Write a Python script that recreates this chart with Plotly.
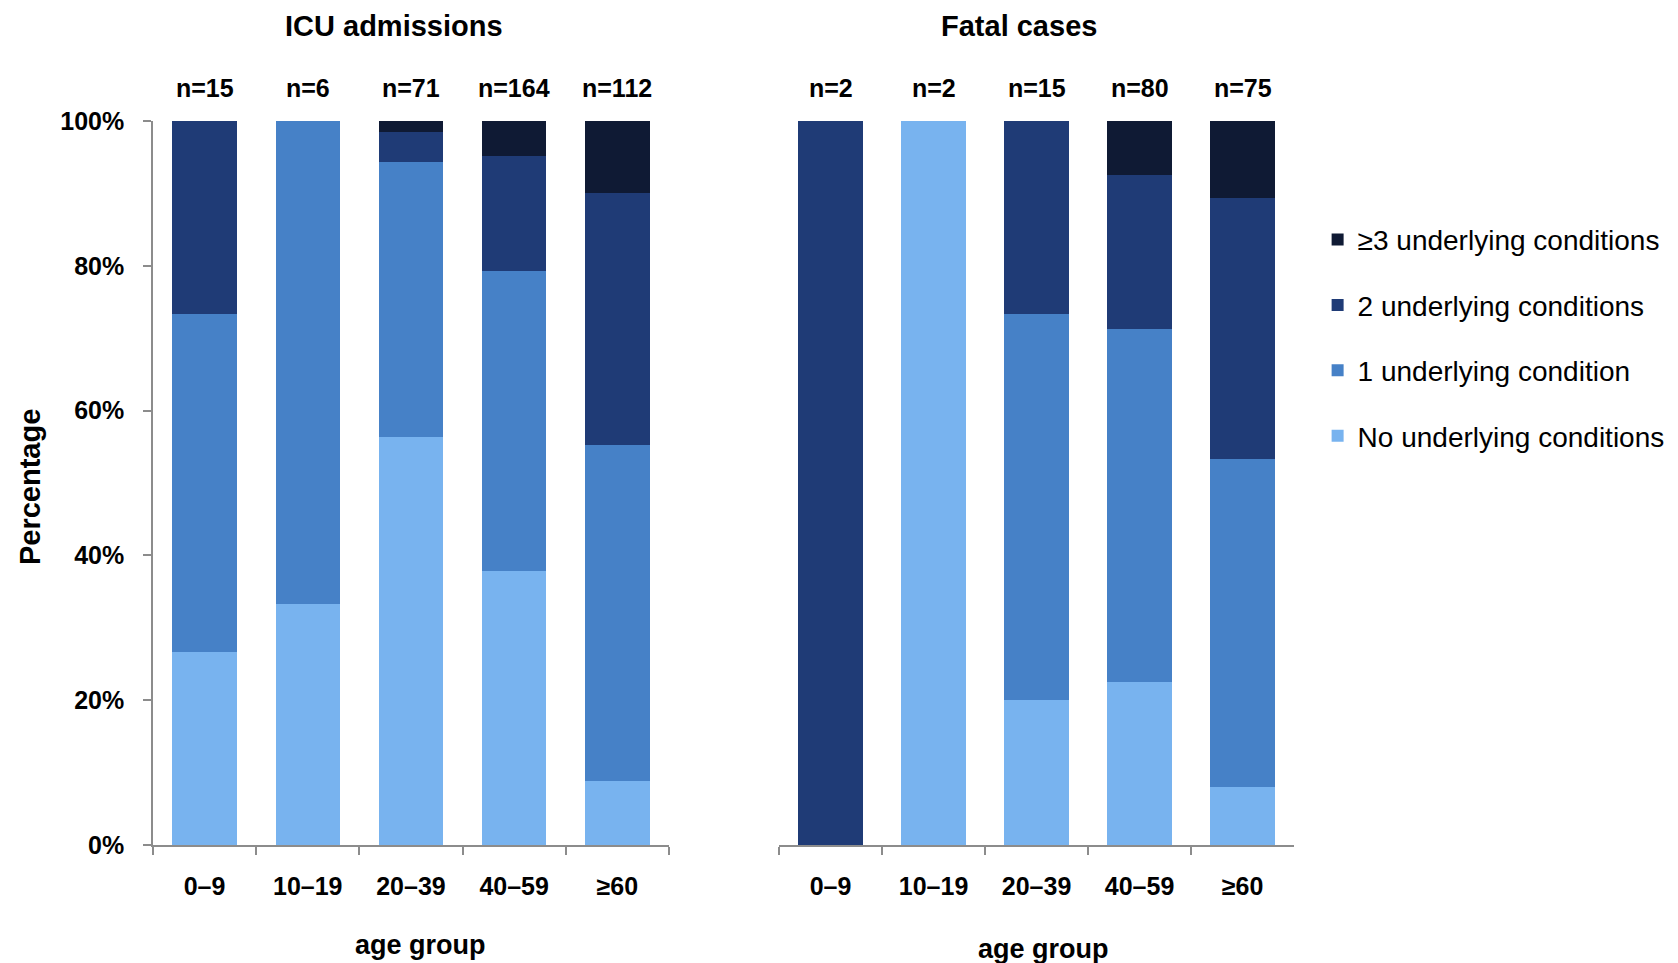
import plotly.graph_objs as go

age_groups = ["0–9", "10–19", "20–39", "40–59", "≥60"]

# ICU admissions, % of cases per age group
icu_n = [15, 6, 71, 164, 112]
icu_none = [26.7, 33.3, 56.3, 37.8, 8.9]
icu_one = [46.7, 66.7, 38.0, 41.5, 46.4]
icu_two = [26.6, 0, 4.2, 15.9, 34.8]
icu_three = [0, 0, 1.5, 4.8, 9.9]

# Fatal cases, % of cases per age group
fatal_n = [2, 2, 15, 80, 75]
fatal_none = [0, 100, 20.0, 22.5, 8.0]
fatal_one = [0, 0, 53.3, 48.8, 45.3]
fatal_two = [100, 0, 26.7, 21.2, 36.0]
fatal_three = [0, 0, 0, 7.5, 10.7]

series_names = ["No underlying conditions", "1 underlying condition",
                "2 underlying conditions", "≥3 underlying conditions"]
series_colors = ["#78b3ef", "#4681c7", "#1f3b76", "#0f1a34"]

y_ticks = [0, 20, 40, 60, 80, 100]
y_ticktext = ["0%", "20%", "40%", "60%", "80%", "100%"]

FONT = "Liberation Sans, Arial, sans-serif"

traces = []
icu_series = [icu_none, icu_one, icu_two, icu_three]
fatal_series = [fatal_none, fatal_one, fatal_two, fatal_three]

for i, name in enumerate(series_names):
    rank = (len(series_names) - i) * 100  # top of the stack first in legend
    # --- left panel (legend shown) ---
    traces.append(go.Bar(
        x=age_groups, y=icu_series[i], name=name,
        marker=dict(color=series_colors[i], line=dict(width=0)),
        legendgroup=name, legendrank=rank, showlegend=True,
        xaxis="x", yaxis="y"
    ))
    # --- right panel ---
    traces.append(go.Bar(
        x=age_groups, y=fatal_series[i], name=name,
        marker=dict(color=series_colors[i], line=dict(width=0)),
        legendgroup=name, legendrank=rank, showlegend=False,
        xaxis="x2", yaxis="y2"
    ))

axis_grey = "#8c8c8c"
tickfont = dict(family=FONT, size=25, color="black", weight="bold")

xaxis_common = dict(
    type="category", showline=True, linecolor=axis_grey, linewidth=1.5,
    ticks="outside", tickson="boundaries", ticklen=8, tickcolor=axis_grey,
    tickwidth=1.5, tickfont=tickfont, ticklabelstandoff=18,
    showgrid=False, zeroline=False, automargin=False, fixedrange=True
)

n_font = dict(family=FONT, size=25, color="black", weight="bold")
annotations = []
for cat, n in zip(age_groups, icu_n):
    annotations.append(dict(x=cat, y=0.9162, xref="x", yref="paper",
                            xanchor="center", yanchor="middle",
                            text="n=%d" % n, showarrow=False, font=n_font))
for cat, n in zip(age_groups, fatal_n):
    annotations.append(dict(x=cat, y=0.9162, xref="x2", yref="paper",
                            xanchor="center", yanchor="middle",
                            text="n=%d" % n, showarrow=False, font=n_font))

title_font = dict(family=FONT, size=29, color="black", weight="bold")
label_font = dict(family=FONT, size=27, color="black", weight="bold")
centered = dict(xref="paper", yref="paper", xanchor="center", yanchor="middle",
                showarrow=False)
annotations += [
    dict(x=0.2311, y=1.0, xref="paper", yref="paper", xanchor="center",
         yanchor="top", showarrow=False, text="ICU admissions", font=title_font),
    dict(x=0.6054, y=1.0, xref="paper", yref="paper", xanchor="center",
         yanchor="top", showarrow=False, text="Fatal cases", font=title_font),
    dict(x=0.2471, y=0.0188, text="age group", font=label_font, **centered),
    dict(x=0.6201, y=0.0147, text="age group", font=label_font, **centered),
    dict(x=0.0132, y=0.4984, text="Percentage", textangle=-90,
         font=dict(family=FONT, size=29, color="black", weight="bold"), **centered),
]

# page body has an 8px margin, so the figure is 8px smaller than the window
layout = go.Layout(
    barmode="stack",
    bargap=0.375,
    width=1670, height=955,
    paper_bgcolor="white", plot_bgcolor="white",
    margin=dict(l=0, r=0, t=0, b=0),
    xaxis=dict(domain=[0.0868, 0.3958], anchor="y", **xaxis_common),
    xaxis2=dict(domain=[0.4617, 0.7701], anchor="y2", **xaxis_common),
    yaxis=dict(domain=[0.1236, 0.8817], range=[0, 100], anchor="x",
               tickvals=y_ticks, ticktext=y_ticktext,
               showline=True, linecolor=axis_grey, linewidth=1.5,
               ticks="outside", ticklen=8, tickcolor=axis_grey, tickwidth=1.5,
               tickfont=tickfont, ticklabelstandoff=14,
               showgrid=False, zeroline=False, automargin=False, fixedrange=True),
    yaxis2=dict(domain=[0.1236, 0.8817], range=[0, 100], anchor="x2",
                visible=False, fixedrange=True),
    legend=dict(
        x=0.7842, y=0.7834, xanchor="left", yanchor="top",
        traceorder="grouped", tracegroupgap=26,
        font=dict(family=FONT, size=28, color="black"),
        itemwidth=30, bgcolor="rgba(0,0,0,0)"
    ),
    annotations=annotations,
    showlegend=True,
)

fig = go.Figure(data=traces, layout=layout)
fig.write_html("out.html")
